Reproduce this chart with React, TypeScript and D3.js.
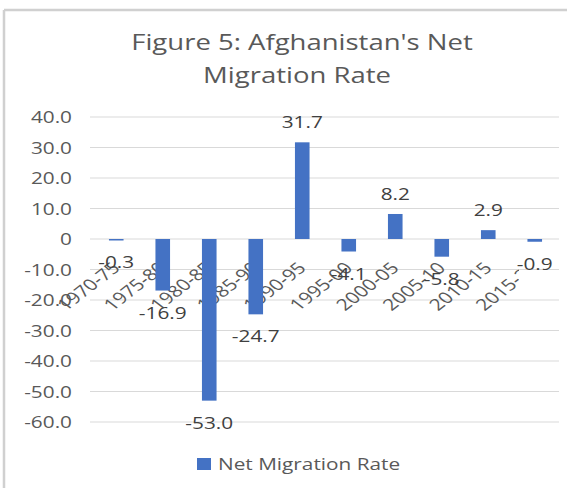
import React from "react";
import * as d3 from "d3";

const categories = ["1970-75", "1975-80", "1980-85", "1985-90", "1990-95", "1995-00", "2000-05", "2005-10", "2010-15", "2015-20"];
const values = [-0.3, -16.9, -53.0, -24.7, 31.7, -4.1, 8.2, -5.8, 2.9, -0.9];
const yTicks = [40, 30, 20, 10, 0, -10, -20, -30, -40, -50, -60];
const titleLines = ["Figure 5: Afghanistan's Net", "Migration Rate"];
const seriesName = "Net Migration Rate";

const W = 567;
const H = 488;
const FONT = "'Open Sans', 'Liberation Sans', sans-serif";
const TEXT = "#595959";
const GRID = "#d9d9d9";
const BAR = "#4472C4";
const SX = 1.3; // the reference is stretched horizontally

export default function App() {
  const x = d3.scaleBand<string>().domain(categories).range([93, 558]).paddingInner(0.686).paddingOuter(0.343);
  const y = d3.scaleLinear().domain([-60, 40]).range([422, 117]);
  const tickFmt = (v: number) => (v === 0 ? "0" : v.toFixed(1));
  const y0 = y(0);
  const cx = (c: string) => (x(c) as number) + x.bandwidth() / 2;
  return (
    <svg width={W} height={H} style={{ position: "absolute", left: 0, top: 0, background: "#fff" }}>
      <defs>
        <clipPath id="catclip">
          <rect x={0} y={0} width={519} height={H} />
        </clipPath>
      </defs>
      <rect x={0} y={0} width={W} height={H} fill="#fff" />
      {/* frame */}
      <line x1={4} x2={W} y1={10} y2={10} stroke="#d0d0d0" strokeWidth={2.5} />
      <line x1={4} x2={4} y1={10} y2={H} stroke="#d0d0d0" strokeWidth={2.5} />
      {/* title */}
      {titleLines.map((t, i) => (
        <text
          key={t}
          transform={`translate(${i === 0 ? 302 : 297},${50 + i * 33}) scale(1.25,1)`}
          textAnchor="middle"
          fontFamily={FONT}
          fontSize={22}
          fill={TEXT}
        >
          {t}
        </text>
      ))}
      {/* gridlines and y labels */}
      {yTicks.map((t) => (
        <g key={t}>
          <line x1={90} x2={559} y1={y(t)} y2={y(t)} stroke={GRID} strokeWidth={1} />
          <text transform={`translate(72,${y(t) + 6}) scale(${SX},1)`} textAnchor="end" fontFamily={FONT} fontSize={16} fill={TEXT}>
            {tickFmt(t)}
          </text>
        </g>
      ))}
      {/* category labels */}
      <g clipPath="url(#catclip)">
        {categories.map((c) => (
          <text
            key={c}
            transform={`translate(${cx(c) + 5},${y0 + 30}) scale(${SX},1) rotate(-45)`}
            textAnchor="end"
            fontFamily={FONT}
            fontSize={16}
            fill={TEXT}
          >
            {c}
          </text>
        ))}
      </g>
      {/* bars */}
      {categories.map((c, i) => {
        const v = values[i];
        const top = Math.min(y(v), y0);
        const h = Math.abs(y(v) - y0);
        return <rect key={c} x={x(c)} y={top} width={x.bandwidth()} height={Math.max(h, 1.5)} fill={BAR} />;
      })}
      {/* data labels */}
      {categories.map((c, i) => {
        const v = values[i];
        const ly = v >= 0 ? y(v) - 14 : y(v) + 28;
        return (
          <text key={c} transform={`translate(${cx(c)},${ly}) scale(${SX},1)`} textAnchor="middle" fontFamily={FONT} fontSize={16} fill="#404040">
            {v.toFixed(1)}
          </text>
        );
      })}
      {/* legend */}
      <rect x={197} y={458} width={14} height={12} fill={BAR} />
      <text transform={`translate(218,470) scale(${SX},1)`} fontFamily={FONT} fontSize={16} fill={TEXT}>
        {seriesName}
      </text>
    </svg>
  );
}
